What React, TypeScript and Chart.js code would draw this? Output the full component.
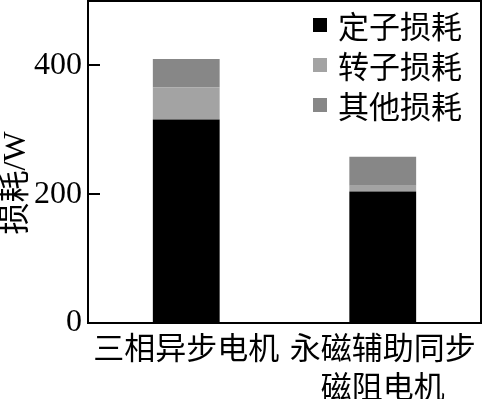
import React, { useEffect, useRef } from "react";
import { Chart, registerables } from "chart.js";

Chart.register(...registerables);

const categories: (string | string[])[] = ["三相异步电机", ["永磁辅助同步", "磁阻电机"]];
const seriesNames = ["定子损耗", "转子损耗", "其他损耗"];
const statorLoss = [316, 204];
const rotorLoss = [50, 9];
const otherLoss = [44, 45];
const seriesColors = ["#000000", "#a3a3a3", "#878787"];
const yTicks = [0, 200, 400];
const yMax = 500;
const yTitle = "损耗/W";

const FONT = "'Liberation Serif', 'Noto Sans CJK SC', serif";
const CJK = "'Noto Sans CJK SC', 'Liberation Serif', serif";

const framePlugin = {
  id: "frame",
  afterDraw(chart: any) {
    const { ctx, chartArea } = chart;
    const { left, top, right, bottom } = chartArea;
    ctx.save();
    ctx.strokeStyle = "#000";
    ctx.lineWidth = 2;
    ctx.strokeRect(left, top, right - left, bottom - top);
    const y = chart.scales.y;
    y.ticks.forEach((t: any) => {
      if (t.value === 0) return;
      const py = Math.round(y.getPixelForValue(t.value));
      ctx.beginPath();
      ctx.moveTo(left, py);
      ctx.lineTo(left + 12, py);
      ctx.stroke();
    });
    // y axis title
    ctx.translate(17, 183);
    ctx.rotate(-Math.PI / 2);
    ctx.fillStyle = "#000";
    ctx.font = `32px ${FONT}`;
    ctx.textAlign = "center";
    ctx.textBaseline = "middle";
    ctx.fillText(yTitle, 0, 0);
    ctx.restore();
  },
};

export default function App() {
  const ref = useRef<HTMLCanvasElement>(null);
  useEffect(() => {
    if (!ref.current) return;
    const data = [statorLoss, rotorLoss, otherLoss];
    const chart = new Chart(ref.current, {
      type: "bar",
      data: {
        labels: categories as any,
        datasets: seriesNames.map((name, i) => ({
          label: name,
          data: data[i],
          backgroundColor: seriesColors[i],
          borderWidth: 0,
          barPercentage: 0.34,
          categoryPercentage: 1,
        })),
      },
      options: {
        animation: false,
        responsive: true,
        maintainAspectRatio: false,
        layout: { padding: { left: 0, top: 1, right: 1, bottom: 0 } },
        plugins: { legend: { display: false }, tooltip: { enabled: false } },
        scales: {
          x: {
            stacked: true,
            grid: { display: false, drawTicks: false },
            border: { display: false },
            ticks: {
              color: "#000",
              font: { family: CJK, size: 31, lineHeight: 1.26 },
              padding: 5,
              autoSkip: false,
              maxRotation: 0,
            },
            afterFit: (s: any) => {
              s.height = 76;
              s.paddingLeft = 0;
              s.paddingRight = 0;
            },
          },
          y: {
            stacked: true,
            min: 0,
            max: yMax,
            grid: { display: false, drawTicks: false },
            border: { display: false },
            afterBuildTicks: (s: any) => {
              s.ticks = yTicks.map((v) => ({ value: v }));
            },
            ticks: {
              color: "#000",
              font: { family: FONT, size: 32 },
              padding: 6,
            },
            afterFit: (s: any) => {
              s.width = 88;
              s.paddingTop = 0;
              s.paddingBottom = 0;
            },
          },
        },
      },
      plugins: [framePlugin],
    });
    return () => chart.destroy();
  }, []);

  return (
    <div style={{ position: "fixed", left: 0, top: 0, width: 482, height: 399, background: "#fff" }}>
      <canvas ref={ref} />
      <div style={{ position: "absolute", left: 313, top: 5, fontFamily: CJK, fontSize: 31, color: "#000" }}>
        {seriesNames.map((name, i) => (
          <div key={name} style={{ display: "flex", alignItems: "center", height: 40 }}>
            <span style={{ display: "inline-block", width: 14, height: 14, background: seriesColors[i], marginRight: 11 }} />
            <span style={{ lineHeight: "40px" }}>{name}</span>
          </div>
        ))}
      </div>
    </div>
  );
}
